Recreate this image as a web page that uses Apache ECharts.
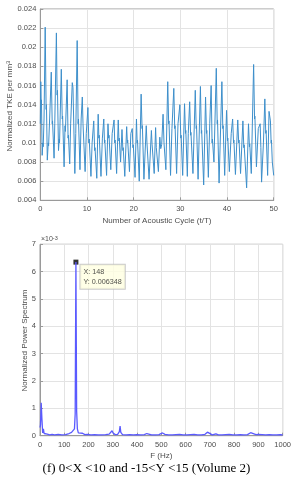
<!DOCTYPE html>
<html>
<head>
<meta charset="utf-8">
<script src="https://cdn.jsdelivr.net/npm/echarts@6/dist/echarts.min.js"></script>
<style>
html,body{margin:0;padding:0;background:#fff;}
#c{width:294px;height:480px;}
</style>
</head>
<body>
<div id="c"></div>
<script>
// ---- Top chart: normalized TKE vs acoustic cycle, samples as [t/T, TKE] ----
const tkeSamples = [
[0.0,0.0120],[0.1,0.0164],[0.2,0.0140],[0.25,0.0145],[0.4,0.0087],[0.55,0.0100],[0.62,0.0096],[0.8,0.0125],
[1.05,0.0221],[1.25,0.0135],[1.32,0.0140],[1.5,0.0082],[1.7,0.0100],[1.78,0.0097],[2.0,0.0125],[2.35,0.0174],
[2.55,0.0120],[2.62,0.0123],[2.95,0.0084],[3.1,0.0120],[3.45,0.0215],[3.6,0.0150],[3.68,0.0155],[3.9,0.0092],
[4.05,0.0104],[4.12,0.0100],[4.5,0.0177],[4.7,0.0125],[4.78,0.0128],[5.1,0.0075],[5.3,0.0118],[5.38,0.0112],
[5.75,0.0166],[5.95,0.0105],[6.02,0.0108],[6.3,0.0078],[6.5,0.0120],[6.85,0.0163],[7.0,0.0158],[7.1,0.0160],
[7.4,0.0068],[7.6,0.0110],[7.9,0.0207],[8.1,0.0120],[8.18,0.0125],[8.5,0.0072],[8.75,0.0125],[9.0,0.0148],
[9.15,0.0120],[9.22,0.0122],[9.6,0.0070],[9.85,0.0110],[10.2,0.0137],[10.4,0.0100],[10.48,0.0104],[10.85,0.0065],
[11.1,0.0100],[11.45,0.0123],[11.65,0.0092],[11.72,0.0095],[12.1,0.0063],[12.4,0.0130],[12.55,0.0105],[12.62,0.0108],
[13.0,0.0065],[13.3,0.0105],[13.6,0.0125],[13.75,0.0100],[13.82,0.0103],[14.2,0.0066],[14.5,0.0120],[14.65,0.0105],
[14.72,0.0108],[15.1,0.0072],[15.4,0.0110],[15.8,0.0124],[15.95,0.0100],[16.02,0.0103],[16.35,0.0068],[16.7,0.0124],
[16.85,0.0102],[16.92,0.0105],[17.2,0.0080],[17.5,0.0114],[17.7,0.0092],[17.76,0.0095],[18.1,0.0065],[18.5,0.0117],
[18.65,0.0100],[18.72,0.0103],[19.1,0.0070],[19.4,0.0110],[19.7,0.0115],[19.85,0.0095],[19.92,0.0098],[20.3,0.0064],
[20.6,0.0125],[20.75,0.0100],[20.82,0.0103],[21.2,0.0060],[21.6,0.0151],[21.8,0.0115],[21.87,0.0118],[22.2,0.0062],
[22.7,0.0118],[22.85,0.0100],[22.92,0.0102],[23.3,0.0062],[23.8,0.0113],[23.95,0.0098],[24.02,0.0100],[24.4,0.0068],
[24.7,0.0116],[24.85,0.0095],[24.92,0.0097],[25.3,0.0070],[25.6,0.0106],[25.8,0.0094],[26.0,0.0098],[26.3,0.0130],
[26.5,0.0100],[26.6,0.0102],[26.9,0.0072],[27.3,0.0164],[27.5,0.0120],[27.57,0.0123],[27.9,0.0066],[28.2,0.0115],
[28.6,0.0157],[28.8,0.0115],[28.87,0.0118],[29.2,0.0068],[29.5,0.0120],[29.9,0.0140],[30.1,0.0105],[30.17,0.0108],
[30.5,0.0066],[30.9,0.0141],[31.1,0.0110],[31.17,0.0113],[31.5,0.0065],[31.7,0.0110],[32.0,0.0143],[32.2,0.0108],
[32.27,0.0111],[32.7,0.0068],[33.2,0.0155],[33.4,0.0115],[33.47,0.0118],[33.8,0.0062],[34.3,0.0159],[34.5,0.0110],
[34.57,0.0113],[35.0,0.0056],[35.4,0.0148],[35.6,0.0110],[35.67,0.0113],[36.0,0.0064],[36.3,0.0120],[36.6,0.0160],
[36.8,0.0100],[36.87,0.0104],[37.2,0.0080],[37.7,0.0178],[37.9,0.0120],[37.97,0.0124],[38.3,0.0058],[38.9,0.0164],
[39.1,0.0115],[39.17,0.0118],[39.5,0.0066],[39.9,0.0134],[40.1,0.0102],[40.17,0.0105],[40.5,0.0070],[40.9,0.0110],
[41.2,0.0125],[41.4,0.0100],[41.47,0.0103],[41.8,0.0067],[42.3,0.0124],[42.5,0.0100],[42.57,0.0103],[42.9,0.0068],
[43.4,0.0123],[43.6,0.0095],[43.67,0.0098],[44.2,0.0053],[44.6,0.0120],[44.8,0.0096],[44.87,0.0099],[45.2,0.0068],
[45.7,0.0182],[45.9,0.0125],[45.97,0.0128],[46.3,0.0075],[46.7,0.0115],[47.1,0.0120],[47.25,0.0095],[47.4,0.0059],
[47.8,0.0100],[48.1,0.0146],[48.3,0.0110],[48.37,0.0113],[48.7,0.0066],[49.0,0.0133],[49.3,0.0123],[49.45,0.0100],
[49.52,0.0103],[49.7,0.0080],[50.0,0.0066]
];
const topXTicks = [0,10,20,30,40,50];
const topYTicks = [0.004,0.006,0.008,0.01,0.012,0.014,0.016,0.018,0.02,0.022,0.024];

// ---- Bottom chart: normalized power spectrum ----
const freqHz = [0,2,5,8,11,14,17,22,30,40,50,60,75,90,105,120,130,138,142,145,148,151,154,158,165,175,185,195,210,225,240,255,270,285,293,297,301,310,320,327,330,333,340,355,370,385,400,415,430,440,445,460,475,490,505,510,515,530,545,560,575,582,590,605,620,635,650,665,680,690,695,710,725,735,750,765,780,795,810,825,840,855,868,875,890,900,915,930,945,960,975,990,1000];
const powerSpec = [0.00030,0.00040,0.00120,0.00060,0.00010,0.00025,0.00008,0.00005,0.00006,0.00003,0.00005,0.00003,0.00005,0.00003,0.00004,0.00008,0.00012,0.00018,0.00025,0.00080,0.006348,0.00090,0.00025,0.00010,0.00005,0.00009,0.00004,0.00005,0.00003,0.00004,0.00003,0.00003,0.00004,0.00006,0.00012,0.00018,0.00010,0.00004,0.00005,0.00015,0.00035,0.00012,0.00004,0.00003,0.00004,0.00003,0.00004,0.00003,0.00004,0.00008,0.00004,0.00003,0.00003,0.00004,0.00010,0.00016,0.00005,0.00003,0.00003,0.00004,0.00005,0.00006,0.00003,0.00003,0.00004,0.00005,0.00003,0.00003,0.00005,0.00013,0.00006,0.00003,0.00007,0.00003,0.00003,0.00004,0.00005,0.00003,0.00003,0.00004,0.00003,0.00004,0.00011,0.00005,0.00004,0.00005,0.00004,0.00003,0.00004,0.00003,0.00003,0.00004,0.00003];
const bottomXTicks = [0,100,200,300,400,500,600,700,800,900,1000];
const bottomYTicks = [0,1,2,3,4,5,6,7]; // x 10^-3
const dataTipX = 148;
const dataTipY = 0.006348;
const captionText = '(f) 0<X <10 and -15<Y <15 (Volume 2)';

const chart = echarts.init(document.getElementById('c'), null, {renderer:'canvas'});
const FONT = 'Liberation Sans, Arial, sans-serif';
const axisTxt = {color:'#4d4d4d', fontSize:7.5, fontFamily:FONT};
const gridLine = {show:true, lineStyle:{color:'#e3e3e3', width:1}};
const axisLn = {show:true, lineStyle:{color:'#9a9a9a', width:1}};
const tickIn = {show:true, inside:true, length:3, lineStyle:{color:'#9a9a9a'}};

function fmtTop(v){ return String(parseFloat(v.toFixed(4))); }

chart.setOption({
  animation:false,
  backgroundColor:'#ffffff',
  grid:[
    {left:40.3, right:20.3, top:9, bottom:279.7, show:true, borderColor:'#9a9a9a', borderWidth:1},
    {left:40, right:10.3, top:244.3, bottom:44.3, show:true, borderColor:'#9a9a9a', borderWidth:1}
  ],
  xAxis:[
    {gridIndex:0, type:'value', min:topXTicks[0], max:topXTicks[topXTicks.length-1], interval:10,
     axisLine:axisLn, axisTick:tickIn, splitLine:gridLine,
     axisLabel:Object.assign({margin:5}, axisTxt),
     name:'Number of Acoustic Cycle (t/T)', nameLocation:'middle', nameGap:16,
     nameTextStyle:{color:'#4d4d4d', fontSize:8, fontFamily:FONT}},
    {gridIndex:1, type:'value', min:bottomXTicks[0], max:bottomXTicks[bottomXTicks.length-1], interval:100,
     axisLine:axisLn, axisTick:tickIn, splitLine:gridLine,
     axisLabel:Object.assign({margin:5, formatter:v=>String(v)}, axisTxt),
     name:'F (Hz)', nameLocation:'middle', nameGap:16,
     nameTextStyle:{color:'#4d4d4d', fontSize:8, fontFamily:FONT}}
  ],
  yAxis:[
    {gridIndex:0, type:'value', min:topYTicks[0], max:topYTicks[topYTicks.length-1], interval:0.002,
     axisLine:axisLn, axisTick:tickIn, splitLine:gridLine,
     axisLabel:Object.assign({margin:4, formatter:fmtTop}, axisTxt)},
    {gridIndex:1, type:'value', min:0, max:0.007, interval:0.001,
     axisLine:axisLn, axisTick:tickIn, splitLine:gridLine,
     axisLabel:Object.assign({margin:4, formatter:v=>String(Math.round(v*1000))}, axisTxt)}
  ],
  series:[
    {type:'line', xAxisIndex:0, yAxisIndex:0, showSymbol:false, symbol:'none',
     data:tkeSamples,
     lineStyle:{color:'#3d8fcb', width:1}},
    {type:'line', xAxisIndex:1, yAxisIndex:1, showSymbol:false, symbol:'none',
     data:freqHz.map((f,i)=>[f,powerSpec[i]]),
     lineStyle:{color:'#5a5aff', width:1.3}},
    {type:'scatter', xAxisIndex:1, yAxisIndex:1, symbol:'rect', symbolSize:5,
     itemStyle:{color:'#000000'},
     data:[[dataTipX, dataTipY]],
     label:{show:true, position:[7,5],
       formatter:()=>'X: '+dataTipX+'\nY: '+dataTipY.toFixed(6),
       backgroundColor:'#ffffe1', borderColor:'#bdbdbd', borderWidth:1,
       padding:[3,3,2,3], color:'#222', fontSize:7.2, lineHeight:9.5,
       fontFamily:FONT}}
  ],
  graphic:[
    {type:'text', x:10, y:106, rotation:Math.PI/2,
     style:{rich:{a:{fontSize:8, fill:'#4d4d4d', fontFamily:FONT},
                  s:{fontSize:6, fill:'#4d4d4d', verticalAlign:'top', fontFamily:FONT, padding:[0,0,4,0]}},
            text:'{a|Normalized TKE per mm}{s|3}', align:'center', verticalAlign:'middle'}},
    {type:'text', x:24.5, y:340.5, rotation:Math.PI/2,
     style:{text:'Normalized Power Spectrum', fontSize:8, fill:'#4d4d4d', fontFamily:FONT,
            align:'center', verticalAlign:'middle'}},
    {type:'text', left:41, top:235,
     style:{rich:{a:{fontSize:7, fill:'#4d4d4d', fontFamily:FONT},
                  s:{fontSize:5.5, fill:'#4d4d4d', verticalAlign:'top', fontFamily:FONT, padding:[0,0,3,0]}},
            text:'{a|\u00d710}{s|-3}'}},
    {type:'text', x:146.5, y:469,
     style:{text:captionText, fill:'#000', fontSize:13, fontFamily:'Liberation Serif, Times New Roman, serif',
            align:'center', verticalAlign:'middle'}}
  ]
});
</script>
</body>
</html>
